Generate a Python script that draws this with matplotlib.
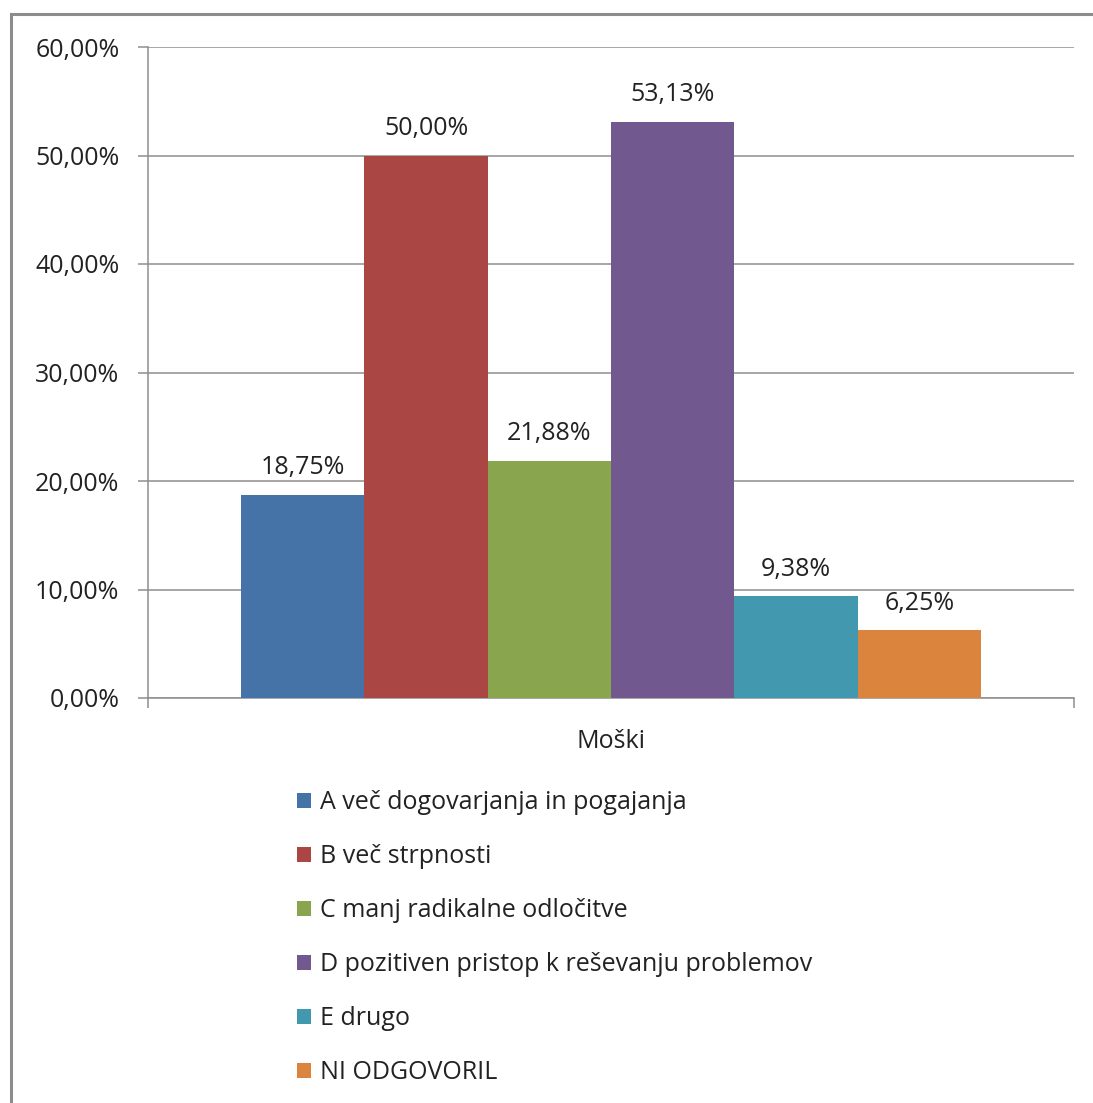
import numpy as np
import matplotlib.pyplot as plt
from matplotlib.patches import Rectangle
from matplotlib.ticker import FuncFormatter

plt.rcParams['font.family'] = ['Open Sans', 'DejaVu Sans']

# podatki
labels = ['A več dogovarjanja in pogajanja', 'B več strpnosti', 'C manj radikalne odločitve',
          'D pozitiven pristop k reševanju problemov', 'E drugo', 'NI ODGOVORIL']
values = [18.75, 50.00, 21.88, 53.13, 9.38, 6.25]
colors = ['#4572A7', '#AA4643', '#89A54E', '#71588F', '#4198AF', '#DB843D']
category = 'Moški'

W, H = 1093, 1103
fs = 18
txt_c = '#222222'
fig = plt.figure(figsize=(W / 100, H / 100), dpi=100)
ax = fig.add_axes([148 / W, 1 - 698 / H, (1074 - 148) / W, (698 - 47) / H])

# okvir grafikona
fig.patches.append(Rectangle((11 / W, -0.05), 1.2, 1 - 14 / H + 0.05, transform=fig.transFigure,
                             fill=False, edgecolor='#8c8c8c', linewidth=2.2, zorder=0))

grid_c = '#8e8e8e'
n = len(values)
bw = (981 - 241) / (1074 - 148) / n
xs = 0.5 + (np.arange(n) - (n - 1) / 2) * bw
bars = []
for x, v, c, lab in zip(xs, values, colors, labels):
    b = ax.bar(x, v, width=bw, color=c, label=lab, zorder=3)
    bars.append(b)
    ax.text(x, v + 1.3, f'{v:.2f}%'.replace('.', ','), ha='center', va='bottom',
            fontsize=fs, color=txt_c, zorder=4)

ax.set_xlim(0, 1)
ax.set_ylim(0, 60)
ax.set_yticks(np.arange(0, 61, 10))
ax.yaxis.set_major_formatter(FuncFormatter(lambda v, p: f'{v:.2f}%'.replace('.', ',')))
ax.grid(axis='y', color=grid_c, linewidth=1.1, zorder=0)
ax.set_axisbelow(True)

ax.set_xticks([0.5])
ax.set_xticklabels([category])
ax.set_xticks([0, 1], minor=True)
ax.tick_params(axis='x', which='major', length=0, pad=22, labelsize=fs, labelcolor=txt_c)
ax.tick_params(axis='x', which='minor', length=7, width=1.1, color=grid_c)
ax.tick_params(axis='y', length=7.5, width=1.1, color=grid_c, pad=13, labelsize=fs,
               labelcolor=txt_c)

for s in ['top', 'right']:
    ax.spines[s].set_visible(False)
for s in ['left', 'bottom']:
    ax.spines[s].set_color(grid_c)
    ax.spines[s].set_linewidth(1.1)

leg = fig.legend(handles=bars, labels=labels, loc='upper left',
                 bbox_to_anchor=(297 / W, 1 - 790 / H), frameon=False, fontsize=fs,
                 handlelength=0.56, handleheight=0.56, handletextpad=0.36,
                 labelspacing=1.16, borderaxespad=0, borderpad=0)
for t in leg.get_texts():
    t.set_color(txt_c)

fig.savefig('out.png', dpi=100)
